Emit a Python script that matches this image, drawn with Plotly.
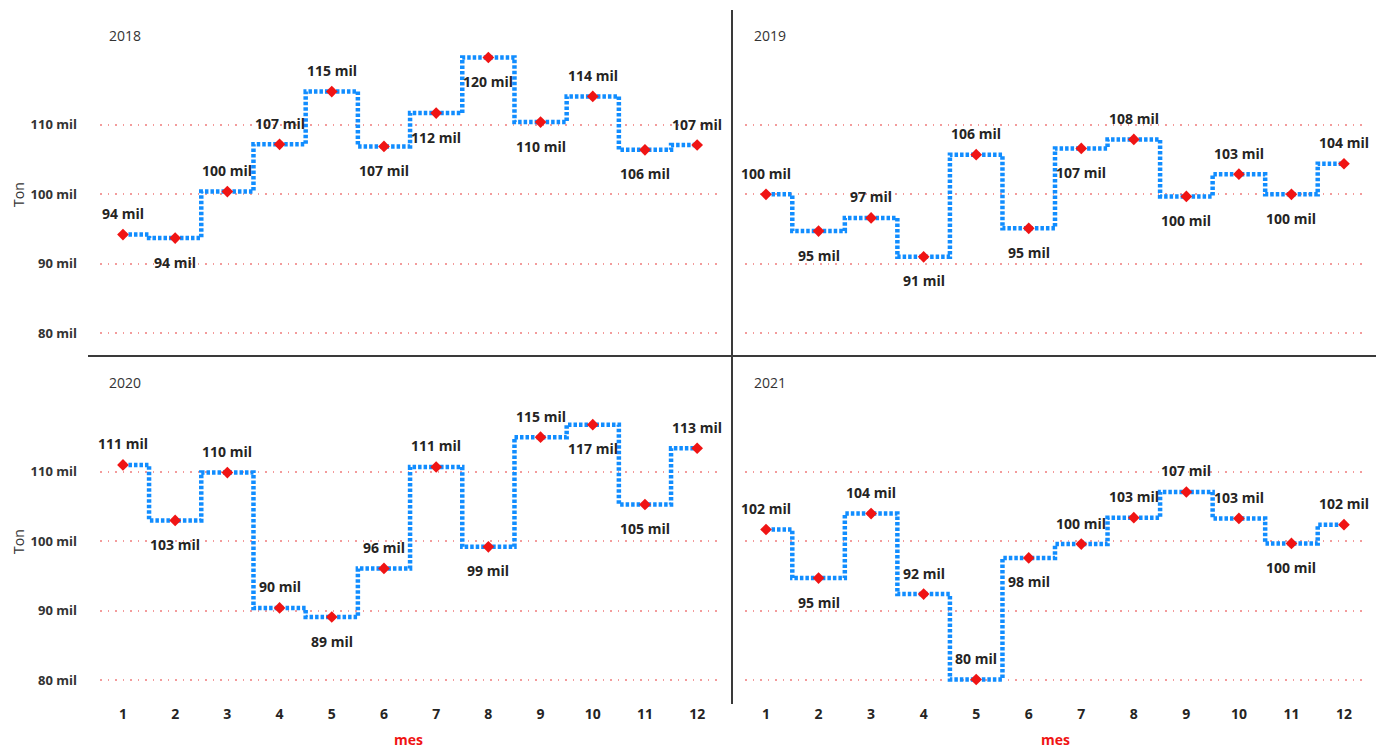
import plotly.graph_objects as go

months = list(range(1, 13))
years = ["2018", "2019", "2020", "2021"]

ton_2018 = [94200, 93700, 100400, 107200, 114800, 106900, 111700, 119700, 110400, 114100, 106400, 107100]
ton_2019 = [100000, 94700, 96600, 91000, 105700, 95100, 106600, 107900, 99700, 102900, 100000, 104400]
ton_2020 = [111000, 103000, 109900, 90400, 89100, 96100, 110700, 99200, 115000, 116800, 105300, 113400]
ton_2021 = [101700, 94700, 104000, 92400, 80100, 97600, 99600, 103400, 107100, 103300, 99700, 102400]

# label placement (a = above, b = below)
pos_2018 = ["a", "b", "a", "a", "a", "b", "b", "b", "b", "a", "b", "a"]
pos_2019 = ["a", "b", "a", "b", "a", "b", "b", "a", "b", "a", "b", "a"]
pos_2020 = ["a", "b", "a", "a", "b", "a", "a", "b", "a", "b", "b", "a"]
pos_2021 = ["a", "b", "a", "a", "a", "b", "a", "a", "a", "a", "b", "a"]

y_ticks = [80000, 90000, 100000, 110000]
y_ticktext = ["80 mil", "90 mil", "100 mil", "110 mil"]

series = [ton_2018, ton_2019, ton_2020, ton_2021]
positions = [pos_2018, pos_2019, pos_2020, pos_2021]

W, H = 1380, 749
FONT = "Open Sans, Noto Sans, sans-serif"
BLUE = "#118DFF"
RED = "#F01414"
TXT = "#252423"

def px(xp):
    return xp / W

def py(yp):
    return 1 - yp / H

# panel pixel boxes: (x0, x1, ytop, ybottom)
panels = [
    (100, 717, 45, 345),
    (745, 1365, 45, 345),
    (100, 717, 392, 692),
    (745, 1365, 392, 692),
]
xranges = [[0.56, 12.38], [0.6, 12.4], [0.56, 12.38], [0.6, 12.4]]
yrange = [78300, 121500]

fig = go.Figure()
annotations = []

for i, (vals, pos) in enumerate(zip(series, positions)):
    n = "" if i == 0 else str(i + 1)
    xa, ya = "x" + n, "y" + n
    fig.add_trace(go.Scatter(
        x=months, y=vals, xaxis=xa, yaxis=ya,
        mode="lines", line=dict(shape="hvh", color=BLUE, width=4.5, dash="3.5px,2px"),
        hoverinfo="skip", showlegend=False,
    ))
    fig.add_trace(go.Scatter(
        x=months, y=vals, xaxis=xa, yaxis=ya,
        mode="markers", marker=dict(symbol="diamond", size=9, color=RED),
        showlegend=False,
    ))
    for m, v, p in zip(months, vals, pos):
        annotations.append(dict(
            x=m, y=v, xref=xa, yref=ya, text=f"{int(v / 1000 + 0.5)} mil",
            showarrow=False, yshift=21 if p == "a" else -24,
            font=dict(family=FONT, size=14, color=TXT, weight="bold"),
            xanchor="center", yanchor="middle",
        ))
    x0, x1, yt, yb = panels[i]
    bottom = i >= 2
    left = i % 2 == 0
    fig.layout["xaxis" + n] = dict(
        domain=[px(x0), px(x1)], range=xranges[i], anchor=ya,
        tickvals=months, ticktext=[str(m) for m in months],
        showticklabels=bottom, showgrid=False, zeroline=False, showline=False,
        ticks="", ticklabelstandoff=12,
        tickfont=dict(family=FONT, size=14, color=TXT, weight="bold"),
    )
    fig.layout["yaxis" + n] = dict(
        domain=[py(yb), py(yt)], range=yrange, anchor=xa,
        tickvals=y_ticks, ticktext=y_ticktext, showticklabels=left,
        showgrid=True, gridcolor="rgba(240,130,130,0.8)", gridwidth=1.5, griddash="1.5px,6px",
        zeroline=False, showline=False, ticks="", ticklabelstandoff=22,
        tickfont=dict(family=FONT, size=13, color="#333333", weight="bold"),
    )
    # panel title
    annotations.append(dict(
        x=px(x0 + 7), y=py(yt - 10), xref="paper", yref="paper", text=years[i],
        showarrow=False, xanchor="left", yanchor="middle",
        font=dict(family=FONT, size=14, color="#333333"),
    ))
    if left:
        annotations.append(dict(
            x=px(18), y=py((yt + yb) / 2), xref="paper", yref="paper", text="Ton",
            showarrow=False, textangle=-90, xanchor="center", yanchor="middle",
            font=dict(family=FONT, size=14, color="#333333"),
        ))
    if bottom:
        annotations.append(dict(
            x=px((x0 + x1) / 2), y=py(739), xref="paper", yref="paper", text="mes",
            showarrow=False, xanchor="center", yanchor="middle",
            font=dict(family=FONT, size=14, color="#F01414", weight="bold"),
        ))

shapes = [
    dict(type="line", xref="paper", yref="paper", x0=px(732), x1=px(732), y0=py(10), y1=py(704),
         line=dict(color="#3a3a3a", width=2)),
    dict(type="line", xref="paper", yref="paper", x0=px(88), x1=px(1376), y0=py(356), y1=py(356),
         line=dict(color="#3a3a3a", width=2)),
]

fig.update_layout(
    width=W, height=H, margin=dict(l=0, r=0, t=0, b=0),
    paper_bgcolor="white", plot_bgcolor="white",
    annotations=annotations, shapes=shapes,
    font=dict(family=FONT),
)

fig.write_html(
    "out.html",
    config={"displayModeBar": False},
    post_script="document.body.style.margin='0px';document.body.style.overflow='hidden';",
)
